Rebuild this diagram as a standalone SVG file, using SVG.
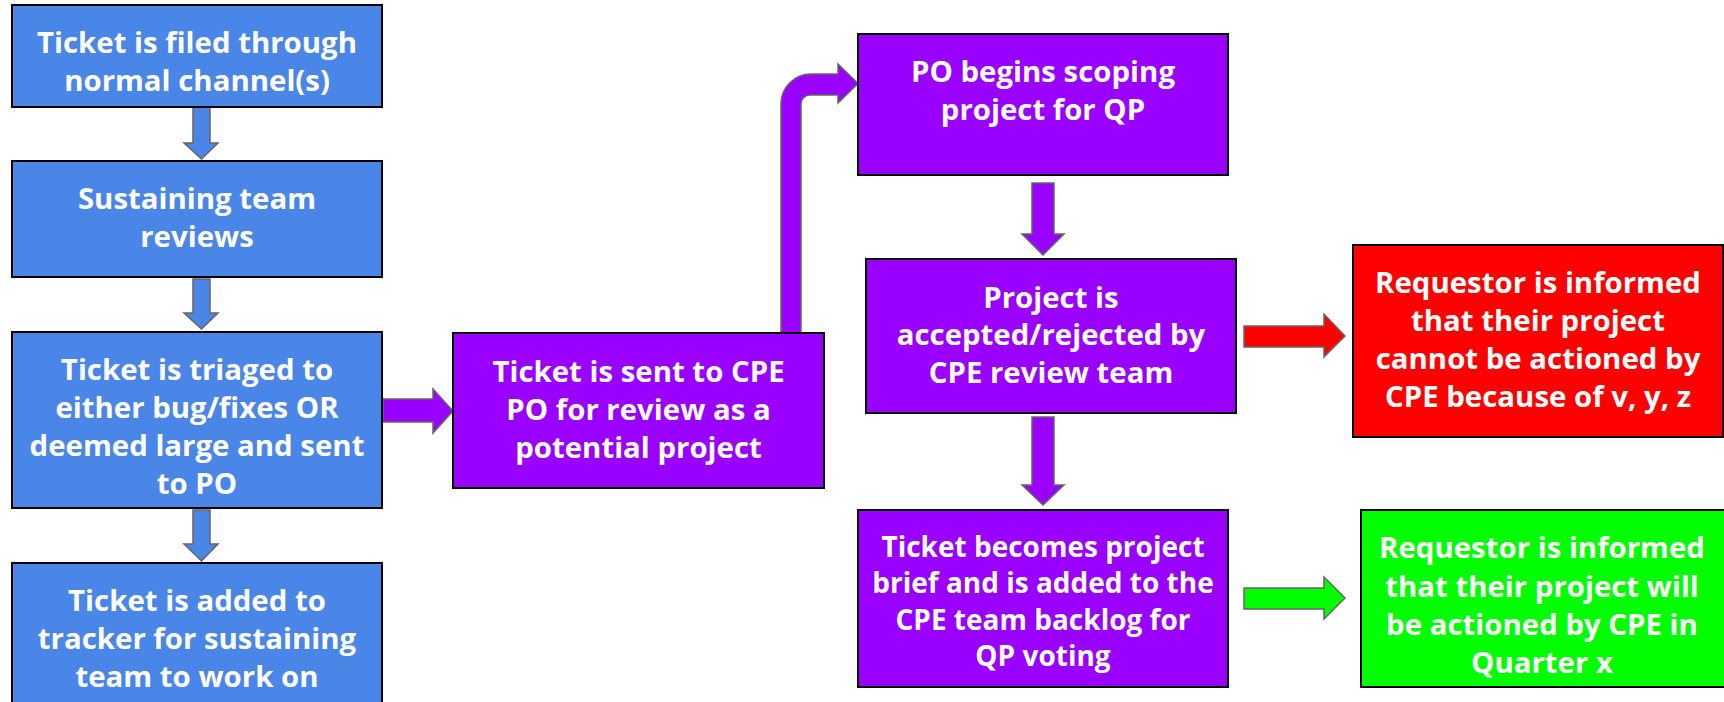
<svg xmlns="http://www.w3.org/2000/svg" width="1724" height="702" viewBox="0 0 1724 702">
<style>
.box{stroke:#000;stroke-width:2}
.blue{fill:#4a86e8}
.purple{fill:#9900ff}
.red{fill:#ff0000}
.green{fill:#00ff00}
.arr{stroke:#666;stroke-width:1.5;stroke-linejoin:miter}
text{font-family:"Open Sans","Liberation Sans",sans-serif;font-weight:700;font-size:29.4px;fill:#fff;text-anchor:middle}
.sm{font-size:28px}
</style>
<rect width="1724" height="702" fill="#fff"/>
<g id="connectors">
<path class="arr blue" d="M193,107 H210 V143 H218 L201.5,159 L184,143 H193 Z"/>
<path class="arr blue" d="M193,279 H210 V313 H218 L201.5,329 L184,313 H193 Z"/>
<path class="arr blue" d="M193,510 H210 V544 H218 L201.5,561 L184,544 H193 Z"/>
<path class="arr purple" d="M383,399 H433 V389 L453,411 L433,433 V422 H383 Z"/>
<path class="arr purple" d="M781,333 V104 A30,30 0 0 1 811,74 H838 V64 L858,83.5 L838,103 V95 H810 A9,9 0 0 0 801,104 V333 Z"/>
<path class="arr purple" d="M1032,183 H1054 V234 H1064 L1043,255 L1022,234 H1032 Z"/>
<path class="arr purple" d="M1032,417 H1054 V485 H1064 L1043,505 L1022,485 H1032 Z"/>
<path class="arr red" d="M1244,326 H1324 V314 L1345,336 L1324,357 V347 H1244 Z"/>
<path class="arr green" d="M1244,588 H1324 V577 L1345,598 L1324,619 V609 H1244 Z"/>
</g>
<g id="n1"><rect class="box blue" x="12" y="5" width="370" height="102"/>
<text x="197" y="53">Ticket is filed through</text><text x="197" y="91">normal channel(s)</text></g>
<g id="n2"><rect class="box blue" x="12" y="161" width="370" height="116"/>
<text x="197" y="209">Sustaining team</text><text x="197" y="247">reviews</text></g>
<g id="n3"><rect class="box blue" x="12" y="332" width="370" height="176"/>
<text x="197" y="380">Ticket is triaged to</text><text x="197" y="418">either bug/fixes OR</text><text x="197" y="456">deemed large and sent</text><text x="197" y="494">to PO</text></g>
<g id="n4"><rect class="box blue" x="12" y="563" width="370" height="150"/>
<text x="197" y="611">Ticket is added to</text><text x="197" y="649">tracker for sustaining</text><text x="197" y="687">team to work on</text></g>
<g id="n5"><rect class="box purple" x="453" y="333" width="371" height="155"/>
<text x="638.5" y="382">Ticket is sent to CPE</text><text x="638.5" y="420">PO for review as a</text><text x="638.5" y="458">potential project</text></g>
<g id="n6"><rect class="box purple" x="858" y="34" width="370" height="141"/>
<text x="1043" y="82">PO begins scoping</text><text x="1043" y="120">project for QP</text></g>
<g id="n7"><rect class="box purple" x="866" y="259" width="370" height="154"/>
<text x="1051" y="308">Project is</text><text x="1051" y="345">accepted/rejected by</text><text x="1051" y="383">CPE review team</text></g>
<g id="n8"><rect class="box purple" x="858" y="510" width="370" height="177"/>
<text class="sm" x="1043" y="557">Ticket becomes project</text><text class="sm" x="1043" y="593">brief and is added to the</text><text class="sm" x="1043" y="630">CPE team backlog for</text><text class="sm" x="1043" y="666">QP voting</text></g>
<g id="n9"><rect class="box red" x="1353" y="245" width="370" height="192"/>
<text x="1538" y="293">Requestor is informed</text><text x="1538" y="331">that their project</text><text x="1538" y="369">cannot be actioned by</text><text x="1538" y="407">CPE because of v, y, z</text></g>
<g id="n10"><rect class="box green" x="1361" y="510" width="370" height="177"/>
<text x="1542" y="558">Requestor is informed</text><text x="1542" y="597">that their project will</text><text x="1542" y="635">be actioned by CPE in</text><text x="1542" y="673">Quarter x</text></g>
</svg>
